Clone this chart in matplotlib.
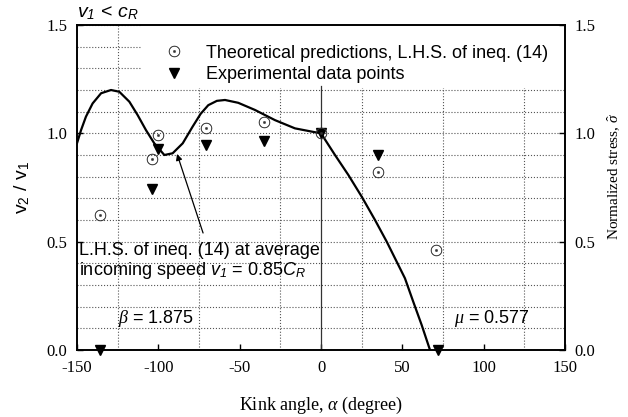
import matplotlib
matplotlib.use("Agg")
import matplotlib.pyplot as plt
from matplotlib.lines import Line2D
from matplotlib.patches import Rectangle
import numpy as np

# values
curve_x = [-150, -147.5, -144.5, -140.4, -135.2, -129.1, -124, -117.8, -112.7, -107.6,
           -102.5, -96.3, -91.2, -85, -79, -74, -69.3, -64, -59, -50.9, -40.6, -28.3,
           -16, -5.7, 0, 8.6, 16.8, 25, 33.2, 40.4, 46.5, 51.6, 56.7, 61.9, 67]
curve_y = [0.954, 1.015, 1.077, 1.138, 1.185, 1.2, 1.192, 1.146, 1.084, 1.015,
           0.954, 0.9, 0.908, 0.954, 1.03, 1.09, 1.13, 1.15, 1.154, 1.141, 1.108, 1.061,
           1.023, 1.008, 1.0, 0.9, 0.808, 0.708, 0.6, 0.5, 0.408, 0.331, 0.223, 0.115, 0.0]

theory_x = [-136, -104, -100, -71, -35, 0, 35, 71]
theory_y = [0.623, 0.881, 0.992, 1.024, 1.052, 1.0, 0.821, 0.461]

exp_x = [-136, -104, -100, -71, -35, 0, 35, 72]
exp_y = [0.0, 0.743, 0.928, 0.946, 0.964, 1.0, 0.90, 0.0]

xticks = [-150, -100, -50, 0, 50, 100, 150]
yticks = [0.0, 0.5, 1.0, 1.5]
xgrid = [-125, -100, -75, -50, -25, 25, 50, 75, 100, 125]

plt.rcParams["mathtext.fontset"] = "custom"
plt.rcParams["mathtext.rm"] = "Liberation Serif"
plt.rcParams["mathtext.it"] = "Liberation Serif:italic"
plt.rcParams["mathtext.sf"] = "Liberation Sans"
plt.rcParams["mathtext.cal"] = "Liberation Sans:italic"

serif = "Liberation Serif"
sans = "Liberation Sans"
fs = 13

fig = plt.figure(figsize=(6.28, 4.17), dpi=100)
ax = fig.add_axes([0.1226, 0.1607, 0.7771, 0.7793])

ax.set_xlim(-150, 150)
ax.set_ylim(0, 1.5)
ax.set_xticks(xticks)
ax.set_yticks(yticks)
ax.set_xticks(xgrid, minor=True)
ax.set_yticks(np.arange(0, 1.51, 0.1), minor=True)
ax.set_xticklabels([str(t) for t in xticks], fontfamily=serif, fontsize=12)
ax.set_yticklabels(["%.1f" % t for t in yticks], fontfamily=serif, fontsize=12)
ax.tick_params(which="major", direction="in", length=4, width=1, pad=7)
ax.tick_params(which="minor", length=0)
ax.grid(True, axis="x", which="minor", linestyle=":", color="#555555", linewidth=0.8)
ax.grid(True, axis="y", which="both", linestyle=":", color="#555555", linewidth=0.8)
for s in ax.spines.values():
    s.set_linewidth(1.2)

# white block behind the legend hides the grid there
ax.add_patch(Rectangle((-110, 1.21), 260, 0.29, facecolor="white", edgecolor="none",
                       zorder=1.8))

# solid vertical line at zero
ax.plot([0, 0], [0, 1.22], color="#333333", linewidth=0.9)

# curve and markers
ax.plot(curve_x, curve_y, color="black", linewidth=1.6, solid_joinstyle="round")
ax.plot(exp_x, exp_y, linestyle="none", marker="v", color="black",
        markersize=6.5, clip_on=False, zorder=5)
ax.plot(theory_x, theory_y, linestyle="none", marker="$\\odot$", color="#333333",
        markersize=8, markeredgewidth=0.3, clip_on=False, zorder=6)

# legend
h_theory = Line2D([], [], linestyle="none", marker="$\\odot$", color="#333333", markersize=8,
                  markeredgewidth=0.3)
h_exp = Line2D([], [], linestyle="none", marker="v", color="black", markersize=6.5)
leg = ax.legend([h_theory, h_exp],
                ["Theoretical predictions, L.H.S. of ineq. (14)", "Experimental data points"],
                loc="upper left", bbox_to_anchor=(0.14, 0.973), frameon=False,
                prop={"family": sans, "size": fs}, handletextpad=0.75,
                labelspacing=0.25, borderaxespad=0.2)

# annotation
ax.annotate("", xy=(-88.5, 0.905), xytext=(-72.5, 0.54),
            arrowprops=dict(arrowstyle="-|>", color="black", linewidth=0.9,
                            mutation_scale=9, shrinkA=0, shrinkB=0))
ax.text(-149, 0.5, "L.H.S. of ineq. (14) at average\nincoming speed "
        "$\\mathcal{v}_{\\mathcal{1}}$ = 0.85$\\mathcal{C}_{\\mathcal{R}}$",
        fontfamily=sans, fontsize=fs, va="top", ha="left", linespacing=1.1)

ax.text(-125, 0.145, "$\\beta$ = 1.875", fontfamily=sans, fontsize=fs, va="center", ha="left")
ax.text(82, 0.145, "$\\mu$ = 0.577", fontfamily=sans, fontsize=fs, va="center", ha="left")

# title at top left
ax.text(0.0, 1.008, "$\\mathcal{v}_{\\mathcal{1}}$ < $\\mathcal{c}_{\\mathcal{R}}$",
        transform=ax.transAxes, fontfamily=sans, fontsize=14, ha="left", va="bottom")

ax.set_xlabel("Kink angle, $\\alpha$ (degree)", fontfamily=serif, fontsize=13, labelpad=14)
ax.set_ylabel("$\\mathsf{v}_{\\mathsf{2}}$ / $\\mathsf{v}_{\\mathsf{1}}$", fontfamily=sans,
              fontsize=14, labelpad=10)

# right axis
ax2 = ax.twinx()
ax2.set_ylim(0, 1.5)
ax2.set_yticks(yticks)
ax2.set_yticklabels(["%.1f" % t for t in yticks], fontfamily=serif, fontsize=12)
ax2.tick_params(direction="in", length=4, width=1, pad=7)
for s in ax2.spines.values():
    s.set_linewidth(1.2)

fig.text(0.978, 0.424, "Normalized stress, $\\hat{\\sigma}$", rotation=90,
         fontfamily=serif, fontsize=11, ha="center", va="bottom")

fig.savefig("out.png", dpi=100)
